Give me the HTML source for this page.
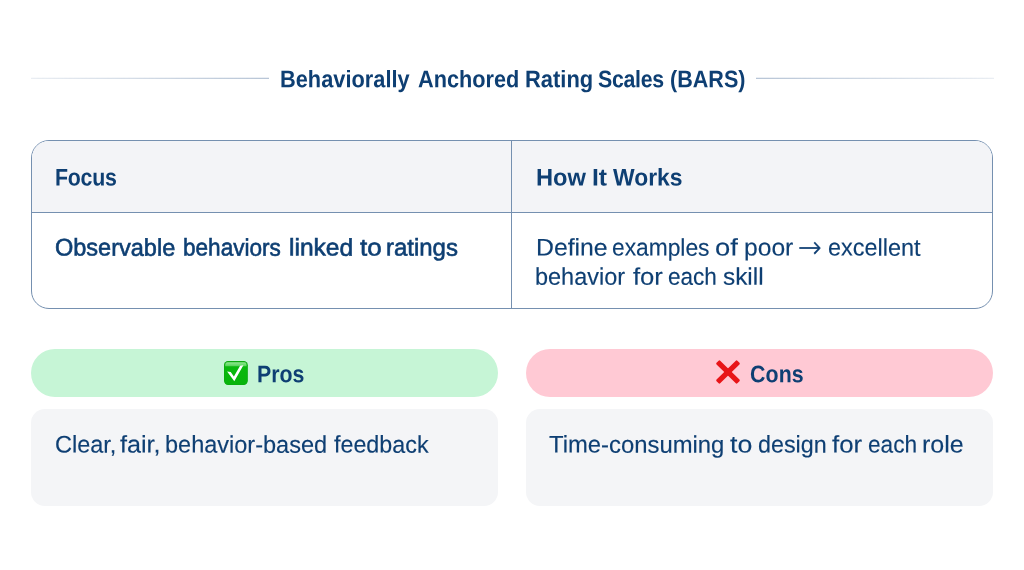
<!DOCTYPE html>
<html lang="en">
<head>
<meta charset="utf-8">
<title>Behaviorally Anchored Rating Scales (BARS)</title>
<style>
html,body{margin:0;padding:0;}
body{width:1024px;height:570px;background:#ffffff;position:relative;overflow:hidden;font-family:"Liberation Sans",sans-serif;color:#0e3f73;}
.title{position:absolute;left:0;top:0;width:1024px;height:110px;}
.rule{position:absolute;top:77px;height:2px;width:238px;-webkit-mask-image:linear-gradient(to bottom,rgba(0,0,0,0.25) 50%,rgba(0,0,0,0.9) 50%);mask-image:linear-gradient(to bottom,rgba(0,0,0,0.25) 50%,rgba(0,0,0,0.9) 50%);}
.rule.l{left:30.5px;background:linear-gradient(to right,rgba(176,191,210,0.3),rgba(176,191,210,1));}
.rule.r{left:755.5px;background:linear-gradient(to right,rgba(176,191,210,1),rgba(176,191,210,0.3));}
.table{position:absolute;left:31px;top:140px;width:960px;height:167px;border:1px solid #7590b0;border-radius:18px;background:#fff;overflow:hidden;}
.thead{position:absolute;left:0;top:0;width:960px;height:71px;background:#f3f4f7;border-bottom:1px solid #7590b0;}
.tbody{position:absolute;left:0;top:72px;width:960px;height:95px;}
.vdiv{position:absolute;left:479px;top:0;width:1px;height:167px;background:#7590b0;}
.cell{position:absolute;top:0;height:100%;}
.cell.c1{left:0;width:479px;}
.cell.c2{left:480px;width:480px;}
.col{position:absolute;top:349px;width:467px;height:157px;}
.col.pros{left:31px;}
.col.cons{left:526px;}
.pill{position:absolute;left:0;top:0;width:467px;height:48px;border-radius:24px;}
.pros .pill{background:#c6f5d6;}
.cons .pill{background:#ffc9d4;}
.box{position:absolute;left:0;top:60px;width:467px;height:97px;border-radius:14px;background:#f4f5f7;}
.ico{position:absolute;}
.t{position:absolute;left:0;margin:0;white-space:nowrap;line-height:1;font-size:24px;font-weight:400;color:#0e3f73;-webkit-text-stroke:0.15px #0e3f73;}
.t span{position:absolute;top:0;left:0;transform-origin:0 0;white-space:nowrap;}
.t .arr{font-family:"DejaVu Sans","Liberation Sans",sans-serif;font-size:30.2px;font-weight:200;-webkit-text-stroke:0.4px #0e3f73;}
.t.b{font-weight:700;-webkit-text-stroke:0;}
.t.m{-webkit-text-stroke:0.6px #0e3f73;}
</style>
</head>
<body>
<header class="title">
<div class="rule l"></div>
<h1 class="t b" style="top:67px;transform:translateY(0.3px)"><span style="left:279.59px;transform:scaleX(0.9085) rotate(0.03deg)">Behaviorally</span> <span style="left:417.86px;transform:scaleX(0.9048) rotate(0.03deg)">Anchored</span> <span style="left:524.82px;transform:scaleX(0.9145) rotate(0.03deg)">Rating</span> <span style="left:597.92px;transform:scaleX(0.8900) rotate(0.03deg);letter-spacing:-0.34px">Scales</span> <span style="left:669.78px;transform:scaleX(0.8984) rotate(0.03deg)">(BARS)</span></h1>
<div class="rule r"></div>
</header>
<section class="table">
<div class="thead">
<div class="cell c1"><div class="t b" style="top:24px;transform:translateY(0.5px)"><span style="left:22.94px;transform:scaleX(0.8900) rotate(0.03deg);letter-spacing:-0.3px">Focus</span></div></div>
<div class="cell c2"><div class="t b" style="top:24px;transform:translateY(0.5px)"><span style="left:23.81px;transform:scaleX(0.9866) rotate(0.03deg)">How</span> <span style="left:80.21px;transform:scaleX(1.0281) rotate(0.03deg)">It</span> <span style="left:101.25px;transform:scaleX(0.9536) rotate(0.03deg)">Works</span></div></div>
</div>
<div class="tbody">
<div class="cell c1"><div class="t m" style="top:22px;transform:translateY(0.6px)"><span style="left:22.91px;transform:scaleX(0.9795) rotate(0.03deg)">Observable</span> <span style="left:151.13px;transform:scaleX(0.9407) rotate(0.03deg)">behaviors</span> <span style="left:257.21px;transform:scaleX(1.0235) rotate(0.03deg)">linked</span> <span style="left:327.56px;transform:scaleX(1.0814) rotate(0.03deg)">to</span> <span style="left:353.87px;transform:scaleX(0.9978) rotate(0.03deg)">ratings</span></div></div>
<div class="cell c2">
<div class="t" style="top:22px;transform:translateY(0.6px)"><span style="left:23.56px;transform:scaleX(1.0321) rotate(0.03deg)">Define</span> <span style="left:99.87px;transform:scaleX(0.9490) rotate(0.03deg)">examples</span> <span style="left:203.2px;transform:scaleX(1.1406) rotate(0.03deg)">of</span> <span style="left:231.65px;transform:scaleX(1.0271) rotate(0.03deg)">poor</span> <span class="arr" style="left:285.9px;top:-3.4px;transform:scaleX(0.935) rotate(0.03deg)">→</span> <span style="left:315.75px;transform:scaleX(0.9767) rotate(0.03deg)">excellent</span></div>
<div class="t" style="top:51px;transform:translateY(0.8px)"><span style="left:23.08px;transform:scaleX(0.9778) rotate(0.03deg)">behavior</span> <span style="left:120.7px;transform:scaleX(1.0672) rotate(0.03deg)">for</span> <span style="left:156.36px;transform:scaleX(0.9387) rotate(0.03deg)">each</span> <span style="left:210.97px;transform:scaleX(1.0156) rotate(0.03deg)">skill</span></div>
</div>
</div>
<div class="vdiv"></div>
</section>
<section class="col pros">
<div class="pill">
<svg class="ico" style="left:192.8px;top:11.65px" width="23.8" height="24" viewBox="0 0 23.8 24" aria-hidden="true">
<defs><linearGradient id="gg" x1="0" y1="0" x2="0" y2="1"><stop offset="0" stop-color="#12ad14"/><stop offset="0.25" stop-color="#09b80d"/><stop offset="1" stop-color="#07b40b"/></linearGradient>
<linearGradient id="gh" x1="0" y1="0" x2="0" y2="1"><stop offset="0" stop-color="#92e893"/><stop offset="1" stop-color="#52d255"/></linearGradient></defs>
<rect x="0" y="0" width="23.8" height="24" rx="4.2" fill="#0aa80e"/>
<rect x="0.6" y="0.6" width="22.6" height="22.8" rx="3.7" fill="url(#gg)"/>
<path d="M3.6 1.3h16.6a2.4 2.4 0 0 1 2.4 2.4v1.6h-21.4v-1.6a2.4 2.4 0 0 1 2.4-2.4z" fill="url(#gh)"/>
<polygon points="3.1,10.6 6.7,10.9 9.9,15.4 16.1,4.7 19.4,4.2 10.3,20.3" fill="#ffffff"/>
</svg>
<div class="t b" style="top:13px;transform:translateY(0.3px)"><span style="left:226.2px;transform:scaleX(0.8900) rotate(0.03deg);letter-spacing:-0.03px">Pros</span></div>
</div>
<div class="box"><div class="t" style="top:23px;transform:translateY(0.6px)"><span style="left:23.5px;transform:scaleX(0.9792) rotate(0.03deg)">Clear,</span> <span style="left:89.35px;transform:scaleX(1.0491) rotate(0.03deg)">fair,</span> <span style="left:133.67px;transform:scaleX(0.9795) rotate(0.03deg)">behavior-based</span> <span style="left:303.32px;transform:scaleX(0.9705) rotate(0.03deg)">feedback</span></div></div>
</section>
<section class="col cons">
<div class="pill">
<svg class="ico" style="left:187.55px;top:9.45px" width="28" height="28" viewBox="-14 -14 28 28" overflow="visible" aria-hidden="true">
<g fill="#e81518"><rect x="-14.6" y="-2.6" width="29.2" height="5.2" rx="1.1" transform="rotate(44.5)"/><rect x="-14.6" y="-2.6" width="29.2" height="5.2" rx="1.1" transform="rotate(-44.5)"/></g>
</svg>
<div class="t b" style="top:13px;transform:translateY(0.3px)"><span style="left:223.62px;transform:scaleX(0.8900) rotate(0.03deg);letter-spacing:0.11px">Cons</span></div>
</div>
<div class="box"><div class="t" style="top:23px;transform:translateY(0.6px)"><span style="left:23.25px;transform:scaleX(0.9934) rotate(0.03deg)">Time-consuming</span> <span style="left:204.3px;transform:scaleX(1.1155) rotate(0.03deg)">to</span> <span style="left:231.96px;transform:scaleX(0.9709) rotate(0.03deg)">design</span> <span style="left:306.36px;transform:scaleX(1.0753) rotate(0.03deg)">for</span> <span style="left:342px;transform:scaleX(0.9433) rotate(0.03deg)">each</span> <span style="left:396.1px;transform:scaleX(1.0442) rotate(0.03deg)">role</span></div></div>
</section>
</body>
</html>
